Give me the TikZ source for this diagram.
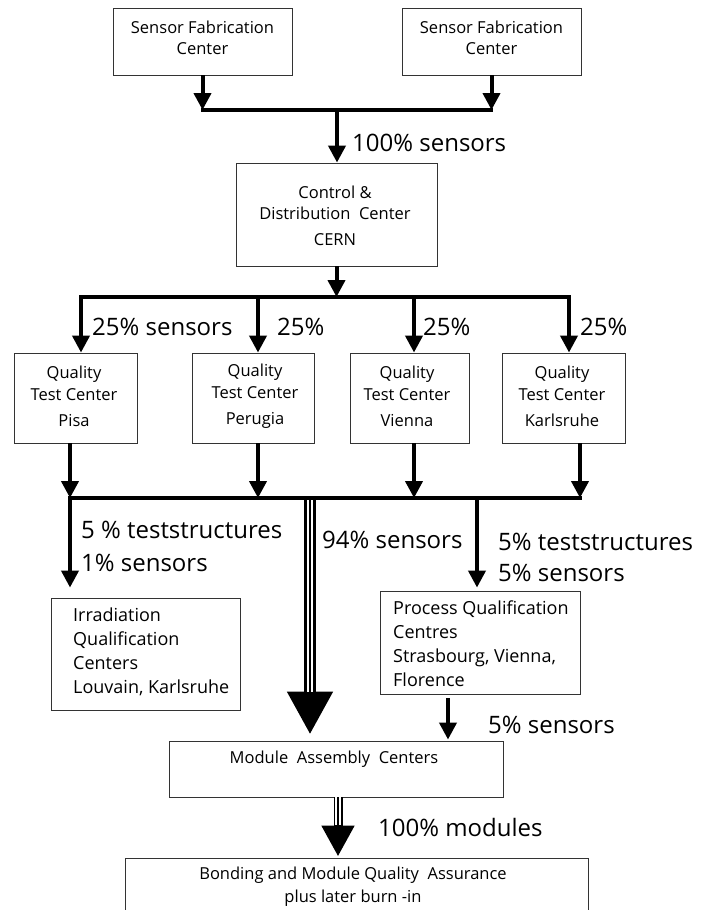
\documentclass[tikz,border=0pt]{standalone}
\usepackage{fontspec}
\setmainfont{Open Sans}
\usetikzlibrary{arrows.meta}
\begin{document}
\begin{tikzpicture}[x=1pt,y=-1pt,
  box/.style={draw=black!80, line width=0.9pt, inner sep=0pt},
  flow/.style={line width=4pt},
  hline/.style={line width=4pt, line cap=rect},
  arr/.style={flow, -{Triangle[width=17pt,length=17pt]}},
  lbl/.style={font=\fontsize{24}{31}\selectfont, anchor=west, inner sep=0pt, align=left},
  txt/.style={font=\fontsize{16.5}{21}\selectfont, inner sep=0pt, align=center},
  txtq/.style={font=\fontsize{16.5}{22}\selectfont, inner sep=0pt, align=center},
  txtl/.style={font=\fontsize{18}{24.2}\selectfont, inner sep=0pt, align=left, anchor=west},
]
\useasboundingbox (0,0) rectangle (701,910);
\clip (0,0) rectangle (701,910);

% top sensor fabrication centers
\node[box, minimum width=179pt, minimum height=67pt] (sf1) at (202.5,41.5) {};
\node[txt] (sf1t) at (202.5,37.5) {Sensor Fabrication\\Center};
\node[box, minimum width=179pt, minimum height=67pt] (sf2) at (491.5,41.5) {};
\node[txt] (sf2t) at (491.5,37.5) {Sensor Fabrication\\Center};

\coordinate (ja) at (203,110);
\coordinate (jb) at (491,110);
\coordinate (jc) at (337,110);
\draw[arr] (sf1.south) -- (sf1.south |- ja);
\draw[arr] (sf2.south) -- (sf2.south |- jb);
\draw[hline] (ja) -- (jb);

% CERN
\node[box, minimum width=201pt, minimum height=103pt] (cern) at (336.5,214.5) {};
\node[txt] (cernt) at (335,215.5) {Control \&\\Distribution\ \ Center\\[5pt]CERN};
\draw[arr] (jc) -- (jc |- cern.north);
\node[lbl] (l100) at (352,143) {100\% sensors};

% distribution line
\coordinate (jd) at (336.5,297);
\coordinate (d1) at (81,297);
\coordinate (d2) at (258,297);
\coordinate (d3) at (414,297);
\coordinate (d4) at (569,297);
\draw[arr] (cern.south) -- (jd);
\draw[hline] (d1) -- (d4);

% quality test centers
\node[box, minimum width=123pt, minimum height=90pt] (pisa) at (75.5,398) {};
\node[box, minimum width=122pt, minimum height=90pt] (peru) at (253,398) {};
\node[box, minimum width=119pt, minimum height=90pt] (vien) at (409.5,398) {};
\node[box, minimum width=123pt, minimum height=90pt] (karl) at (563.5,398) {};
\node[txtq] (pisat) at (74,396) {Quality\\Test Center\\[4pt]Pisa};
\node[txtq] (perut) at (255,396) {Quality\\Test Center\\[4pt]Perugia};
\node[txtq] (vient) at (407,396) {Quality\\Test Center\\[4pt]Vienna};
\node[txtq] (karlt) at (562,396) {Quality\\Test Center\\[4pt]Karlsruhe};

\draw[arr] (d1) -- (d1 |- pisa.north);
\draw[arr] (d2) -- (d2 |- peru.north);
\draw[arr] (d3) -- (d3 |- vien.north);
\draw[arr] (d4) -- (d4 |- karl.north);
\node[lbl] (l25a) at (92,327) {25\% sensors};
\node[lbl] (l25b) at (277,327) {25\%};
\node[lbl] (l25c) at (423,327) {25\%};
\node[lbl] (l25d) at (580,327) {25\%};

% collection line
\coordinate (c1) at (70,498);
\coordinate (c2) at (258,498);
\coordinate (c3) at (414,498);
\coordinate (c4) at (580,498);
\coordinate (c5) at (477,498);
\coordinate (t1) at (310,498);
\draw[arr] (pisa.south -| c1) -- (c1);
\draw[arr] (peru.south -| c2) -- (c2);
\draw[arr] (vien.south -| c3) -- (c3);
\draw[arr] (karl.south -| c4) -- (c4);

% irradiation
\node[box, minimum width=189pt, minimum height=112pt] (irr) at (145.5,654) {};
\node[txtl] (irrt) at (73,652) {Irradiation\\Qualification\\Centers\\Louvain, Karlsruhe};
\draw[arr, shorten >=10pt] (c1) -- (c1 |- irr.north);
\node[lbl, font=\fontsize{24}{33}\selectfont] (lirr) at (81,546.5) {5 \% teststructures\\1\% sensors};

% process qualification
\node[box, minimum width=200pt, minimum height=103pt] (proc) at (480,642.5) {};
\node[txtl] (proct) at (393,643.5) {Process Qualification\\Centres\\Strasbourg, Vienna,\\Florence};
\draw[arr, shorten >=3pt] (c5) -- (c5 |- proc.north);
\node[lbl] (lproc) at (498,557.5) {5\% teststructures\\5\% sensors};

% module assembly
\node[box, minimum width=334pt, minimum height=56pt] (mac) at (336,769) {};
\node[txt] (mact) at (334,759) {Module\ \ Assembly\ \ Centers};
\coordinate (p1) at (448,694);
\draw[arr, shorten <=4pt, shorten >=1pt] (proc.south -| p1) -- (p1 |- mac.north);
\node[lbl] (lmac) at (488,725) {5\% sensors};

% 94% triple arrow
\draw[line width=11.4pt, -{Triangle[width=43pt,length=43pt]}, shorten >=6pt] (t1) -- (t1 |- mac.north);
\draw[white, line width=6.8pt, shorten >=49pt] (t1) -- (t1 |- mac.north);
\draw[line width=2pt, shorten >=49pt] (t1) -- (t1 |- mac.north);
\node[lbl] (l94) at (322,540) {94\% sensors};

\draw[hline] (c1) -- (c4);

% bonding
\node[box, minimum width=463pt, minimum height=80pt] (bond) at (356.5,898) {};
\node[txt, font=\fontsize{16.5}{23}\selectfont] (bondt) at (353,886.5) {Bonding and Module Quality\ \ Assurance\\plus later burn -in};
\coordinate (t2) at (338,797);
\draw[line width=9pt, -{Triangle[width=31pt,length=31pt]}, shorten >=1pt] (t2) -- (t2 |- bond.north);
\draw[white, line width=5.4pt, shorten >=33pt] (t2) -- (t2 |- bond.north);
\draw[line width=1.8pt, shorten >=33pt] (t2) -- (t2 |- bond.north);
\node[lbl] (lmod) at (378,827) {100\% modules};
\end{tikzpicture}
\end{document}
